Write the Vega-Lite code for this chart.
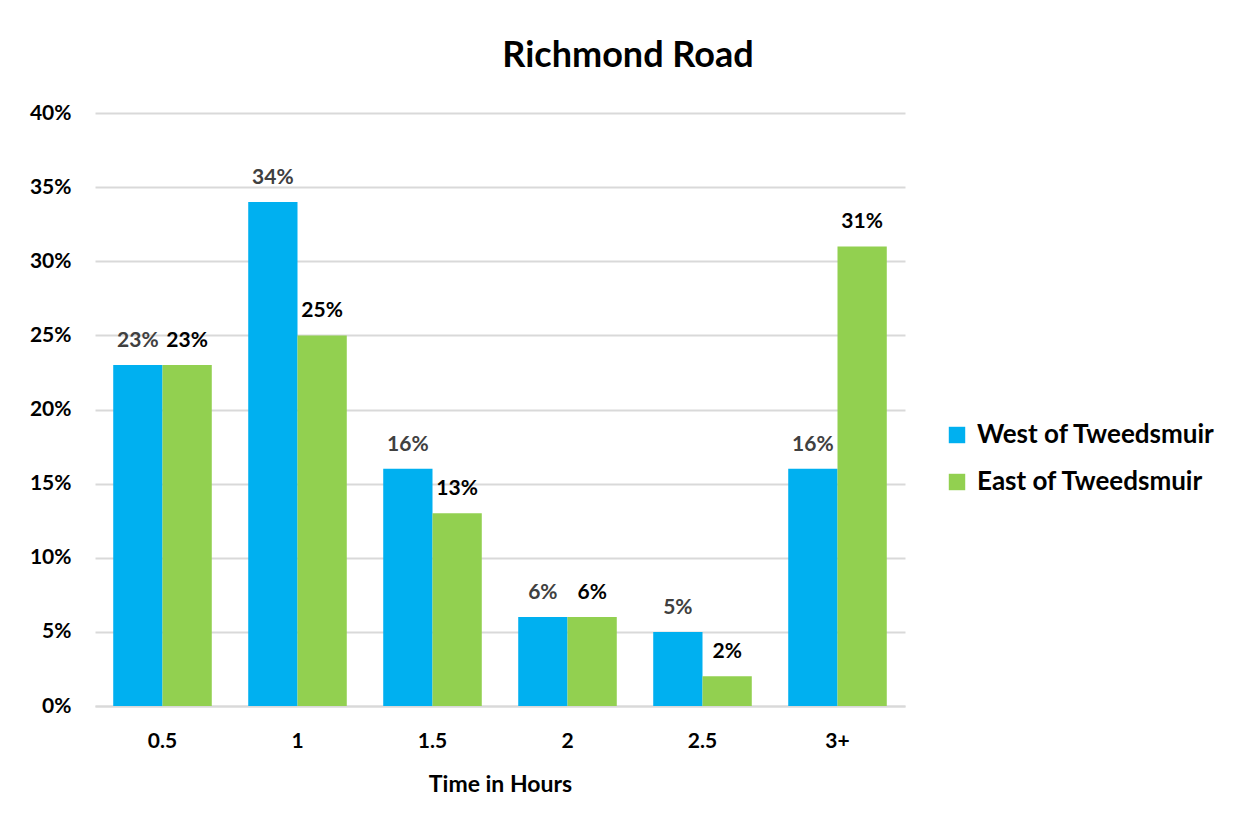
{
  "$schema": "https://vega.github.io/schema/vega-lite/v6.json",
  "width": 810,
  "height": 593,
  "autosize": {"type": "none"},
  "padding": {"left": 95, "top": 113, "right": 343, "bottom": 127},
  "background": "white",
  "config": {
    "font": "Lato",
    "view": {"stroke": null}
  },
  "title": {
    "text": "Richmond Road",
    "fontSize": 36,
    "fontWeight": "bold",
    "color": "#000000",
    "anchor": "middle",
    "dx": 128,
    "offset": 27
  },
  "data": {
    "values": [
      {"time": "0.5", "series": "West of Tweedsmuir", "share": 0.23},
      {"time": "0.5", "series": "East of Tweedsmuir", "share": 0.23},
      {"time": "1", "series": "West of Tweedsmuir", "share": 0.34},
      {"time": "1", "series": "East of Tweedsmuir", "share": 0.25},
      {"time": "1.5", "series": "West of Tweedsmuir", "share": 0.16},
      {"time": "1.5", "series": "East of Tweedsmuir", "share": 0.13},
      {"time": "2", "series": "West of Tweedsmuir", "share": 0.06},
      {"time": "2", "series": "East of Tweedsmuir", "share": 0.06},
      {"time": "2.5", "series": "West of Tweedsmuir", "share": 0.05},
      {"time": "2.5", "series": "East of Tweedsmuir", "share": 0.02},
      {"time": "3+", "series": "West of Tweedsmuir", "share": 0.16},
      {"time": "3+", "series": "East of Tweedsmuir", "share": 0.31}
    ]
  },
  "encoding": {
    "x": {
      "field": "time",
      "type": "ordinal",
      "sort": null,
      "scale": {"paddingInner": 0.27, "paddingOuter": 0.135},
      "axis": {
        "title": "Time in Hours",
        "titleFontSize": 23,
        "titleFontWeight": "bold",
        "titleColor": "#000000",
        "titlePadding": 22,
        "labelAngle": 0,
        "labelFontSize": 21,
        "labelFontWeight": "bold",
        "labelColor": "#000000",
        "labelPadding": 24,
        "ticks": false,
        "domainColor": "#d9d9d9",
        "domainWidth": 2
      }
    },
    "xOffset": {"field": "series", "type": "nominal", "sort": ["West of Tweedsmuir", "East of Tweedsmuir"]},
    "y": {
      "field": "share",
      "type": "quantitative",
      "scale": {"domain": [0, 0.4]},
      "axis": {
        "title": null,
        "format": ".0%",
        "values": [0, 0.05, 0.1, 0.15, 0.2, 0.25, 0.3, 0.35, 0.4],
        "labelFontSize": 21,
        "labelFontWeight": "bold",
        "labelColor": "#000000",
        "labelPadding": 24,
        "ticks": false,
        "domain": false,
        "gridColor": "#d9d9d9",
        "gridWidth": 2
      }
    }
  },
  "layer": [
    {
      "mark": {"type": "bar"},
      "encoding": {
        "color": {
          "field": "series",
          "type": "nominal",
          "sort": ["West of Tweedsmuir", "East of Tweedsmuir"],
          "scale": {"domain": ["West of Tweedsmuir", "East of Tweedsmuir"], "range": ["#00b0f0", "#92d050"]},
          "legend": {
            "title": null,
            "orient": "none",
            "legendX": 849,
            "legendY": 309,
            "symbolType": "square",
            "symbolSize": 270,
            "symbolStrokeWidth": 0,
            "labelFontSize": 26,
            "labelFontWeight": "bold",
            "labelColor": "#000000",
            "labelOffset": 7,
            "rowPadding": 21,
            "labelLimit": 400
          }
        }
      }
    },
    {
      "mark": {"type": "text", "baseline": "bottom", "dy": -14, "fontSize": 21, "fontWeight": "bold"},
      "encoding": {
        "text": {"field": "share", "type": "quantitative", "format": ".0%"},
        "color": {
          "condition": {"test": "datum.series === 'West of Tweedsmuir'", "value": "#404040"},
          "value": "#000000"
        }
      }
    }
  ]
}
